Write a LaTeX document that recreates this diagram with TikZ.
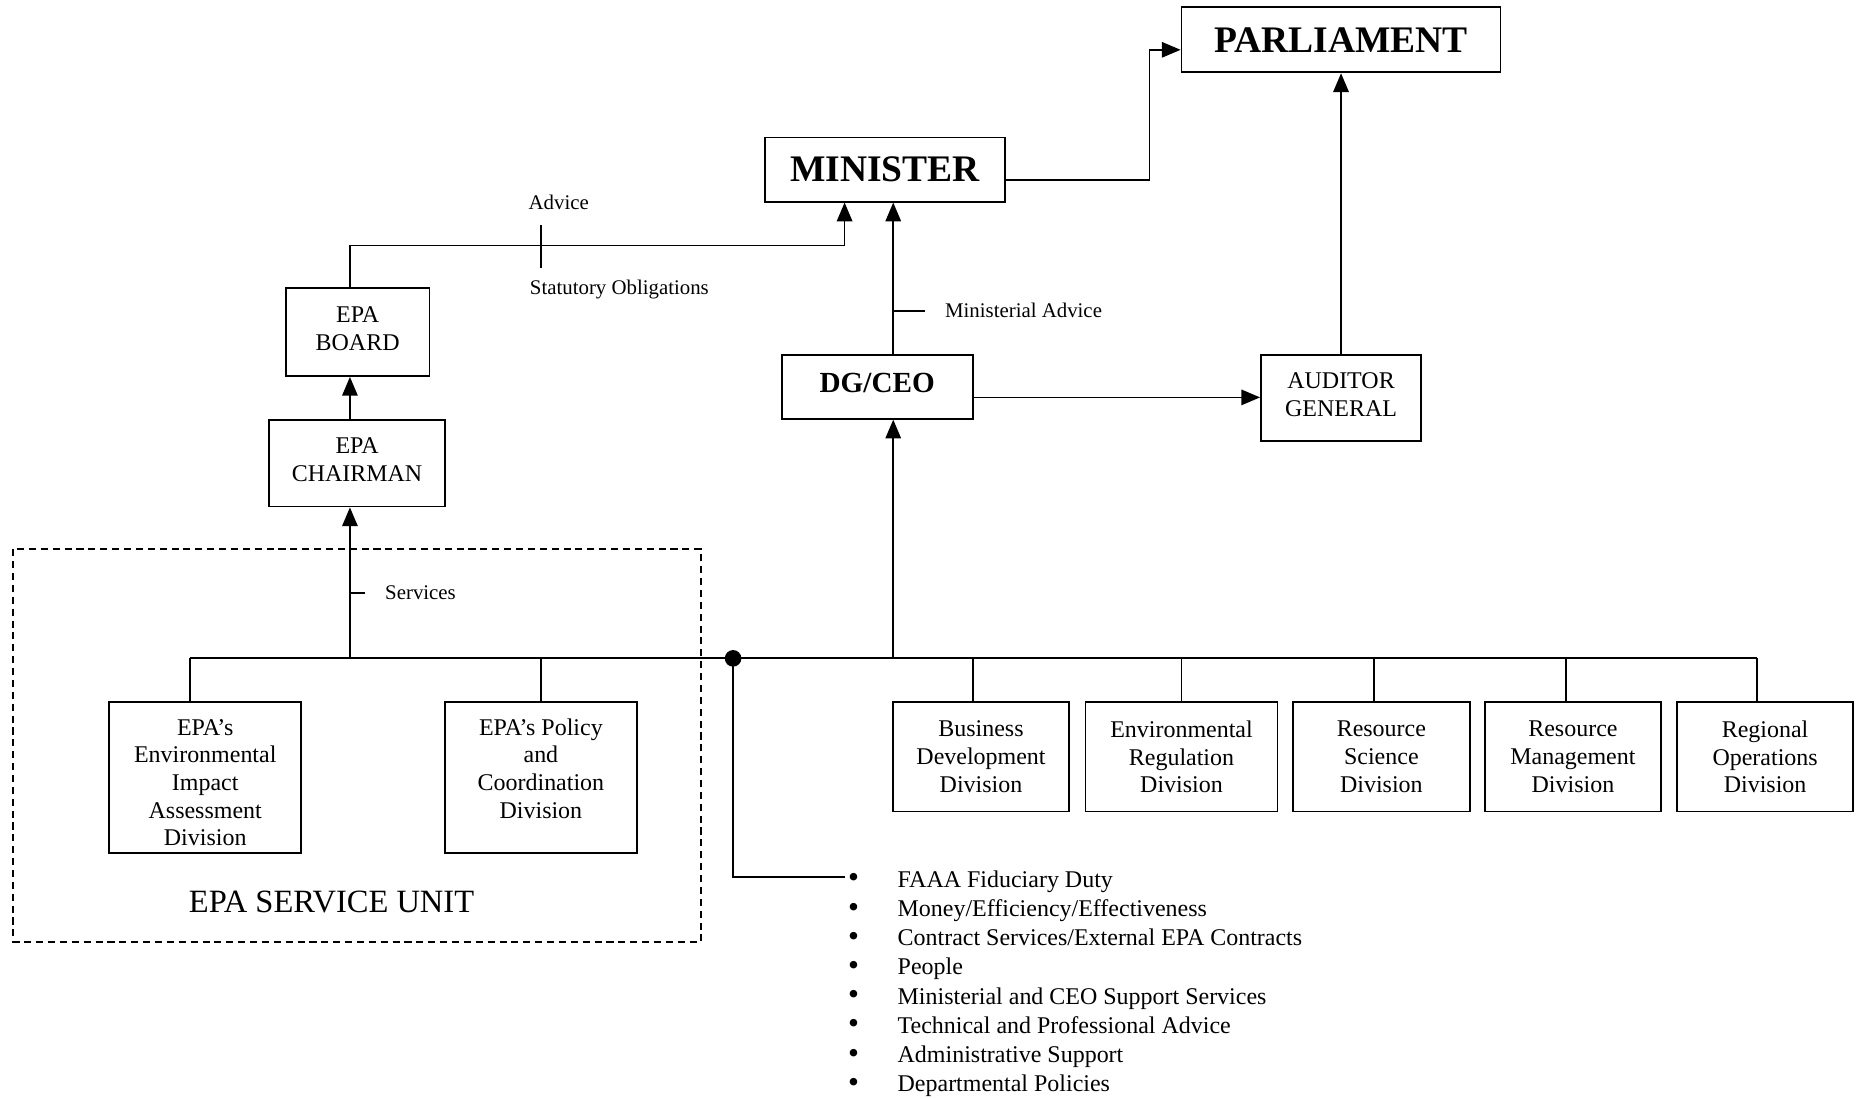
\documentclass[tikz,border=0pt]{standalone}
\usepackage{fontspec}
\setmainfont{Liberation Serif}
\usetikzlibrary{arrows.meta}
\newlength\pxl \setlength\pxl{0.02cm}
\begin{document}
\begin{tikzpicture}[x=0.02cm,y=-0.02cm,
  line width=0.85pt,
  arr/.style={-{Triangle[width=7.4pt,length=9pt]}},
  box/.style={draw, rectangle, inner sep=0pt, align=center, font=\fontsize{11.5}{13.3}\selectfont},
  big/.style={draw, rectangle, inner sep=0pt, font=\fontsize{18}{20}\selectfont\bfseries},
  lbl/.style={inner sep=0pt, font=\fontsize{10}{12}\selectfont},
  item/.style={inner sep=0pt, anchor=base west, font=\fontsize{11.5}{14}\selectfont},
  bul/.style={inner sep=0pt, anchor=center, font=\fontsize{15}{16}\selectfont},
  dot/.style={circle, fill, inner sep=0pt, minimum size=14\pxl},
]
\useasboundingbox (0,0) rectangle (1568,926);

% top level
\node[big, minimum width=269\pxl, minimum height=55\pxl] (parl) at (1130.5,33.5) {PARLIAMENT};
\node[big, minimum width=202\pxl, minimum height=54\pxl] (min) at (746,143) {MINISTER};
\node[box, minimum width=135\pxl, minimum height=73\pxl] (aud) at (1130.5,335.5) {AUDITOR\\GENERAL\rule[-3.4pt]{0pt}{0pt}};
\node[box, minimum width=161\pxl, minimum height=54\pxl, font=\fontsize{14}{16}\selectfont\bfseries] (dg) at (739.5,326) {DG/CEO\rule[-3.4pt]{0pt}{0pt}};
\node[box, minimum width=121\pxl, minimum height=74\pxl] (board) at (301.5,280) {EPA\\BOARD\rule[-3.4pt]{0pt}{0pt}};
\node[box, minimum width=148\pxl, minimum height=73\pxl] (chair) at (301,390.5) {EPA\\CHAIRMAN\rule[-3.4pt]{0pt}{0pt}};

% service unit
\draw[line width=0.7pt, dash pattern=on 3.4pt off 2.3pt] (11,463) rectangle (591,794);
\node[inner sep=0pt, font=\fontsize{15.6}{18}\selectfont] (unit) at (279.5,760) {EPA SERVICE UNIT};
\node[box, minimum width=162\pxl, minimum height=127\pxl] (eia) at (173,655.5) {\rule{0pt}{12.5pt}EPA’s\\Environmental\\Impact\\Assessment\\Division};
\node[box, minimum width=162\pxl, minimum height=127\pxl] (pol) at (456,655.5) {\rule{0pt}{12.5pt}EPA’s Policy\\and\\Coordination\\Division\\\mbox{}};

% divisions
\node[box, minimum width=148\pxl, minimum height=92\pxl] (bd) at (827,638) {Business\\Development\\Division};
\node[box, minimum width=162\pxl, minimum height=92\pxl] (er) at (996,638) {Environmental\\Regulation\\Division};
\node[box, minimum width=149\pxl, minimum height=92\pxl] (rs) at (1164.5,638) {Resource\\Science\\Division};
\node[box, minimum width=148\pxl, minimum height=92\pxl] (rm) at (1326,638) {Resource\\Management\\Division};
\node[box, minimum width=148\pxl, minimum height=92\pxl] (ro) at (1488,638) {Regional\\Operations\\Division};

% connectors top
\draw[arr] (min.east |- 0,152) -- (969,152) |- (parl.west |- 0,42);
\draw[arr] (aud.north) -- (parl.south);
\draw[arr] (dg.east |- 0,335) -- (aud.west |- 0,335);
\draw[arr] (dg.north -| 753,0) -- (min.south -| 753,0);
\draw (753,262) -- (780,262);
\node[lbl, anchor=west] (minadv) at (796,262) {Ministerial Advice};
\draw[arr] (board.north -| 295,0) |- (712,207) -- (min.south -| 712,0);
\draw (456,190) -- (456,226);
\node[lbl] (advice) at (471,171) {Advice};
\node[lbl, anchor=west] (stat) at (446,244) {Statutory Obligations};
\draw[arr] (chair.north -| 295,0) -- (board.south -| 295,0);

% bus
\coordinate (busL) at (160,555);
\coordinate (busR) at (1481,555);
\draw (busL) -- (busR);
\draw[arr] (295,555) -- (chair.south -| 295,0);
\draw (295,500) -- (308,500);
\node[lbl, anchor=west] (serv) at (324,500) {Services};
\draw (busL) -- (eia.north -| busL);
\draw (456,555) -- (pol.north);
\draw[arr] (753,555) -- (dg.south -| 753,0);
\draw (820,555) -- (bd.north -| 820,0);
\draw (996,555) -- (er.north);
\draw (1158,555) -- (rs.north -| 1158,0);
\draw (1320,555) -- (rm.north -| 1320,0);
\draw (busR) -- (ro.north -| busR);

% dot and list
\node[dot] (jn) at (618,555) {};
\coordinate (lst) at (712,739);
\draw (jn.center) |- (lst);
\foreach \t [count=\i from 0] in {FAAA Fiduciary Duty, Money/Efficiency/Effectiveness, Contract Services/External EPA Contracts, People, Ministerial and CEO Support Services, Technical and Professional Advice, Administrative Support, Departmental Policies}{
  \node[bul] (b\i) at (719.5,742.6+24.6*\i) {\textbullet};
  \node[item] (t\i) at (756,748+24.6*\i) {\t};
}
\end{tikzpicture}
\end{document}
